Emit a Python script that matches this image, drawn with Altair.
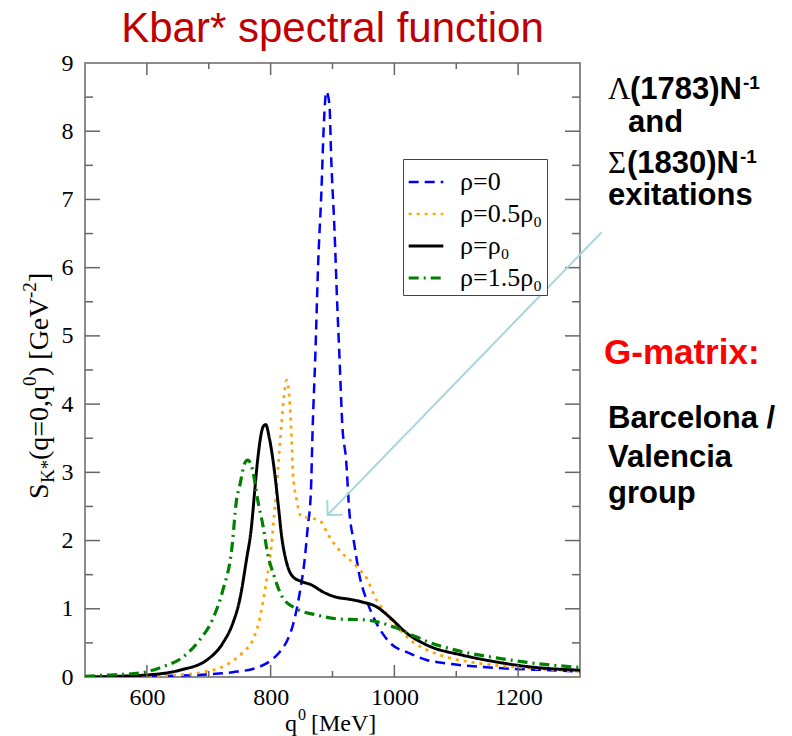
import altair as alt
import pandas as pd

# ---------------- data ----------------
series_names = ["ρ=0", "ρ=0.5ρ₀", "ρ=ρ₀", "ρ=1.5ρ₀"]

q_rho0 = [500, 600, 700, 739, 782, 800, 815, 826, 836, 847, 855, 860, 865, 868, 872, 877, 882, 886, 890,
          895, 898, 903, 908, 911, 916, 922, 927, 935, 944, 955, 971, 992, 1024, 1052, 1084, 1137, 1190, 1250, 1300]
s_rho0 = [0.0, 0.01, 0.04, 0.07, 0.15, 0.24, 0.37, 0.52, 0.76, 1.23, 1.72, 2.2, 2.7, 3.67, 4.65, 6.1, 7.1, 8.1, 8.58,
          8.4, 7.58, 6.6, 5.38, 4.75, 3.67, 3.18, 2.45, 1.96, 1.47, 1.13, 0.79, 0.51, 0.35, 0.25, 0.2, 0.15, 0.12, 0.1, 0.08]

q_rho05 = [500, 600, 648, 690, 729, 755, 771, 782, 790, 795, 801, 804, 809, 814, 818, 822, 826, 831, 834, 836,
           842, 850, 866, 882, 892, 914, 930, 941, 955, 971, 981, 1003, 1032, 1052, 1089, 1137, 1190, 1250, 1300]
s_rho05 = [0.0, 0.01, 0.03, 0.07, 0.18, 0.36, 0.54, 0.84, 1.23, 1.5, 1.9, 2.2, 2.7, 3.3, 3.75, 4.15, 4.35, 4.0, 3.47, 3.0,
           2.6, 2.35, 2.33, 2.27, 2.1, 1.83, 1.7, 1.6, 1.45, 1.13, 1.0, 0.75, 0.5, 0.4, 0.28, 0.2, 0.15, 0.11, 0.08]

q_rho1 = [500, 600, 653, 697, 723, 739, 750, 761, 769, 774, 779, 788, 792, 798, 806, 812, 818, 826, 836, 850,
          866, 884, 906, 927, 948, 971, 992, 1019, 1052, 1110, 1165, 1218, 1300]
s_rho1 = [0.0, 0.03, 0.1, 0.25, 0.5, 0.79, 1.13, 1.72, 2.2, 2.7, 3.18, 3.67, 3.7, 3.5, 3.03, 2.55, 2.05, 1.67, 1.47, 1.4,
          1.35, 1.25, 1.17, 1.14, 1.1, 1.03, 0.88, 0.65, 0.47, 0.32, 0.22, 0.15, 0.1]

q_rho15 = [500, 519, 589, 626, 658, 685, 706, 723, 737, 745, 750, 758, 763, 771, 779, 788, 795, 806, 819, 842,
           874, 911, 948, 976, 1003, 1035, 1056, 1110, 1165, 1218, 1300]
s_rho15 = [0.01, 0.02, 0.06, 0.15, 0.29, 0.54, 0.84, 1.28, 1.86, 2.6, 2.8, 3.13, 3.18, 3.03, 2.6, 2.2, 1.82, 1.47, 1.17, 1.0,
           0.91, 0.85, 0.84, 0.8, 0.72, 0.59, 0.51, 0.37, 0.28, 0.21, 0.14]

x_major = [600, 800, 1000, 1200]
x_minor = [700, 900, 1100]
y_labels = [0, 1, 2, 3, 4, 5, 6, 7, 8, 9]
y_major = [1, 2, 3, 4, 5, 6, 7, 8]
y_minor = [0.5, 1.5, 2.5, 3.5, 4.5, 5.5, 6.5, 7.5, 8.5]

# arrow (start, tip) in data units
arrow_q = [1335, 892]
arrow_s = [6.52, 2.375]

# ---------------- styling ----------------
series_colors = ["#0000FF", "#FFA500", "#000000", "#008000"]
series_dashes = [[10, 6], [3, 5], [1, 0], [10, 5, 2, 5]]
series_widths = [2.5, 3.2, 2.2, 2.5]
SERIF = "Liberation Serif"
SANS = "Liberation Sans"
TICK = "#666666"
W, H = 495, 614

rows = []
for name, qs, ss in zip(series_names, [q_rho0, q_rho05, q_rho1, q_rho15], [s_rho0, s_rho05, s_rho1, s_rho15]):
    for q, s in zip(qs, ss):
        rows.append({"series": name, "q": q, "s": s})
df = pd.DataFrame(rows)

xs = alt.Scale(domain=[500, 1300], nice=False, zero=False)
ys = alt.Scale(domain=[0, 9], nice=False)
xa = alt.Axis(values=x_major, format="d", title=None, ticks=False, domain=False, grid=False,
              labelFont=SERIF, labelFontSize=24, labelColor="black", labelPadding=8)
ya = alt.Axis(values=y_labels, format="d", title=None, ticks=False, domain=False, grid=False,
              labelFont=SERIF, labelFontSize=24, labelColor="black", labelPadding=12)

leg = dict(title=None, orient="none", legendX=318, legendY=96, symbolType="stroke", symbolSize=1200,
           labelFont=SERIF, labelFontSize=26, labelColor="black", strokeColor="#444444", fillColor="white",
           padding=4, rowPadding=-5, labelOffset=15, labelLimit=400)

lines = alt.Chart(df).mark_line(interpolate="monotone", clip=True).encode(
    x=alt.X("q:Q", scale=xs, axis=xa),
    y=alt.Y("s:Q", scale=ys, axis=ya),
    color=alt.Color("series:N", scale=alt.Scale(domain=series_names, range=series_colors), legend=alt.Legend(**leg)),
    strokeDash=alt.StrokeDash("series:N", scale=alt.Scale(domain=series_names, range=series_dashes), legend=alt.Legend(**leg)),
    strokeWidth=alt.StrokeWidth("series:N", scale=alt.Scale(domain=series_names, range=series_widths), legend=alt.Legend(**leg)),
    order=alt.Order("q:Q"),
)


def tick_layer(vals, channel, side, length):
    d = pd.DataFrame({"v": vals})
    if channel == "y":
        enc = dict(y=alt.Y("v:Q", scale=ys, axis=ya))
        if side == "left":
            enc.update(x=alt.value(0), x2=alt.value(length))
        else:
            enc.update(x=alt.value(W), x2=alt.value(W - length))
    else:
        enc = dict(x=alt.X("v:Q", scale=xs, axis=xa))
        if side == "bottom":
            enc.update(y=alt.value(H), y2=alt.value(H - length))
        else:
            enc.update(y=alt.value(0), y2=alt.value(length))
    return alt.Chart(d).mark_rule(color=TICK, strokeWidth=1.5).encode(**enc)


ticks = [
    tick_layer(y_major, "y", "left", 15), tick_layer(y_minor, "y", "left", 8),
    tick_layer(y_major, "y", "right", 15), tick_layer(y_minor, "y", "right", 8),
    tick_layer(x_major, "x", "bottom", 12), tick_layer(x_minor, "x", "bottom", 6),
    tick_layer(x_major, "x", "top", 12), tick_layer(x_minor, "x", "top", 6),
]

arrow_df = pd.DataFrame({"q1": [arrow_q[0]], "s1": [arrow_s[0]], "q2": [arrow_q[1]], "s2": [arrow_s[1]]})
ARROW = "#A9D6DD"
shaft = alt.Chart(arrow_df).mark_rule(color=ARROW, strokeWidth=2).encode(
    x=alt.X("q1:Q", scale=xs, axis=xa), y=alt.Y("s1:Q", scale=ys, axis=ya), x2="q2:Q", y2="s2:Q")
head = alt.Chart(arrow_df).mark_point(shape="M 1 -1 L 0 0 L 1 1", filled=False, size=450, angle=314,
                                      color=ARROW, strokeWidth=2, opacity=1).encode(
    x=alt.X("q2:Q", scale=xs, axis=xa), y=alt.Y("s2:Q", scale=ys, axis=ya))

one = pd.DataFrame({"a": [0]})


def label(text, x, y, size, font=SANS, weight="bold", color="black", angle=0, align="left"):
    kw = dict(text=text, font=font, fontSize=size, fontWeight=weight, color=color, align=align,
              baseline="alphabetic")
    if angle:
        kw["angle"] = angle
    return alt.Chart(one).mark_text(**kw).encode(x=alt.value(x), y=alt.value(y))


# positions relative to the plot origin (85, 63)
texts = [
    # right-hand annotations
    label("Λ", 523, 36, 31, font=SERIF, weight="normal"),
    label("(1783)N", 545, 36, 31),
    label("-1", 658, 26, 19),
    label("and", 543, 69, 31),
    label("Σ", 523, 110, 31, font=SERIF, weight="normal"),
    label("(1830)N", 542, 110, 31),
    label("-1", 655, 100, 19),
    label("exitations", 523, 142, 31),
    label("G-matrix:", 519, 301, 35, color="#FF0000"),
    label("Barcelona /", 523, 365, 31),
    label("Valencia", 523, 404, 31),
    label("group", 523, 440, 31),
    # x-axis title
    label("q", 200, 668, 24, font=SERIF, weight="normal"),
    label("0", 213, 657, 16, font=SERIF, weight="normal"),
    label("[MeV]", 226, 668, 24, font=SERIF, weight="normal"),
    # y-axis title (rotated, read bottom to top)
    label("S", -37, 436, 28, font=SERIF, weight="normal", angle=270),
    label("K*", -31, 420, 19, font=SERIF, weight="normal", angle=270),
    label("(q=0,q", -37, 397, 28, font=SERIF, weight="normal", angle=270),
    label("0", -49, 323, 19, font=SERIF, weight="normal", angle=270),
    label(") [GeV", -37, 313, 28, font=SERIF, weight="normal", angle=270),
    label("-2", -49, 235, 19, font=SERIF, weight="normal", angle=270),
    label("]", -37, 219, 28, font=SERIF, weight="normal", angle=270),
]

chart = alt.layer(lines, *ticks, shaft, head, *texts).properties(
    width=W, height=H,
    title=alt.TitleParams("Kbar* spectral function", font=SANS, fontSize=42, fontWeight="normal",
                          color="#C00000", anchor="middle", offset=0),
    autosize=alt.AutoSizeParams(type="none"),
    padding={"left": 85, "top": 63, "right": 212, "bottom": 59},
    background="white",
).configure_view(
    stroke="#8c8c8c", strokeWidth=2
).configure_axis(
    labelFont=SERIF, labelFontSize=24, labelColor="black"
).configure_legend(
    labelFont=SERIF, labelFontSize=26, labelColor="black"
)

chart.save("out.html", embed_options={"renderer": "svg", "actions": False})
